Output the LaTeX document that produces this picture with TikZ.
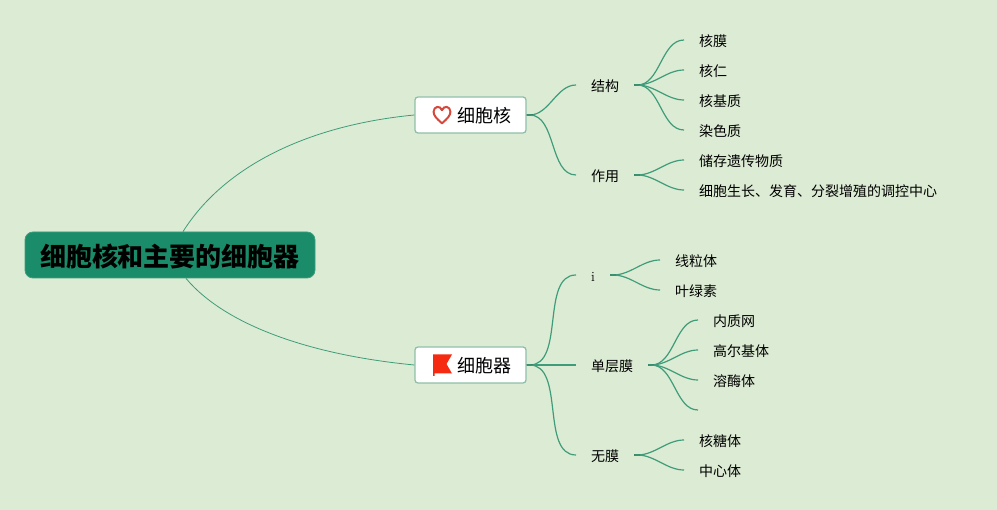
\documentclass[tikz,border=0pt]{standalone}
\usepackage{fontspec}
\newfontfamily\cjk{Noto Sans CJK SC}
\definecolor{bgc}{HTML}{DCEBD3}
\definecolor{linkc}{HTML}{3F9C7A}
\definecolor{rootc}{HTML}{1B8C69}
\definecolor{boxb}{HTML}{8FBFAA}
\definecolor{heartc}{HTML}{D6483C}
\definecolor{flagc}{HTML}{F52A10}
\tikzset{
  x=1pt,y=-1pt,
  rootnode/.style={draw=rootc!85!white,line width=.8pt,fill=rootc,rounded corners=8pt,minimum width=290pt,minimum height=46pt,inner sep=0pt,font=\cjk\fontsize{26}{26}\selectfont\bfseries,text=black,text height=23pt,text depth=0pt},
  boxnode/.style={draw=boxb,line width=1.3pt,fill=white,rounded corners=3pt,minimum width=111pt,minimum height=36pt,inner sep=0pt,text=black},
  boxtext/.style={anchor=west,inner sep=0pt,font=\cjk\fontsize{18}{18}\selectfont,text=black},
  subnode/.style={anchor=west,inner xsep=15pt,inner ysep=2pt,font=\cjk\fontsize{14}{14}\selectfont,text=black,text height=12.4pt,text depth=0pt},
  mainlink/.style={draw=linkc,line width=.8pt},
  link/.style={draw=linkc,line width=1.2pt},
  stub/.style={draw=linkc!80!black,line width=2pt},
}
\newcommand{\fanfrom}[2]{%
  \draw[stub] (#1) -- ++(6,0);
  \draw[link] (#1) -- ++(3,0) to[out=0,in=180,looseness=.9] (#2);
}
\begin{document}
\begin{tikzpicture}
\useasboundingbox[fill=bgc] (0,0) rectangle (997,510);
\node[rootnode] (root) at (170,255) {细胞核和主要的细胞器};
\node[boxnode] (nuc) at (470.5,115) {};
\node[boxnode] (org) at (470.5,365) {};
\node[boxtext] (nuct) at (457.5,116) {细胞核};
\node[boxtext] (orgt) at (457.5,366) {细胞器};
% icons
\draw[draw=heartc,line width=2pt,line join=round]
  (442,123.3) .. controls (436.5,118.5) and (433.6,115.5) .. (433.6,111.8)
  .. controls (433.6,106.2) and (440.2,105) .. (442,110.2)
  .. controls (443.8,105) and (450.4,106.2) .. (450.4,111.8)
  .. controls (450.4,115.5) and (447.5,118.5) .. (442,123.3) -- cycle;
\fill[flagc] (433,354.5) -- (452,354.5) -- (446.5,364) -- (452,373.5) -- (434.5,373.5) -- (434.5,376) -- (433,376) -- cycle;
% second level
\node[subnode] (jg) at (576,85) {结构};
\node[subnode] (zy) at (576,175) {作用};
\node[subnode,font=\fontsize{14}{14}\selectfont] (ii) at (576,275) {i};
\node[subnode] (dcm) at (576,365) {单层膜};
\node[subnode] (wm) at (576,455) {无膜};
% leaves
\node[subnode] (a1) at (684,40) {核膜};
\node[subnode] (a2) at (684,70) {核仁};
\node[subnode] (a3) at (684,100) {核基质};
\node[subnode] (a4) at (684,130) {染色质};
\node[subnode] (b1) at (684,160) {储存遗传物质};
\node[subnode] (b2) at (684,190) {细胞生长、发育、分裂增殖的调控中心};
\node[subnode] (c1) at (660,260) {线粒体};
\node[subnode] (c2) at (660,290) {叶绿素};
\node[subnode] (d1) at (698,320) {内质网};
\node[subnode] (d2) at (698,350) {高尔基体};
\node[subnode] (d3) at (698,380) {溶酶体};
\coordinate (d4) at (698,410);
\node[subnode] (e1) at (684,440) {核糖体};
\node[subnode] (e2) at (684,470) {中心体};
% main curves
\draw[mainlink] ([xshift=13pt]root.north) .. controls (225,165) and (310,125) .. (nuc.west);
\draw[mainlink] ([xshift=16pt]root.south) .. controls (225,325) and (310,355) .. (org.west);
% branches
\foreach \s/\t in {nuc.east/jg.west,nuc.east/zy.west,org.east/ii.west,org.east/dcm.west,org.east/wm.west,
  jg.east/a1.west,jg.east/a2.west,jg.east/a3.west,jg.east/a4.west,zy.east/b1.west,zy.east/b2.west,
  ii.east/c1.west,ii.east/c2.west,dcm.east/d1.west,dcm.east/d2.west,dcm.east/d3.west,dcm.east/d4,
  wm.east/e1.west,wm.east/e2.west}{
  \fanfrom{\s}{\t}
}
\end{tikzpicture}
\end{document}
